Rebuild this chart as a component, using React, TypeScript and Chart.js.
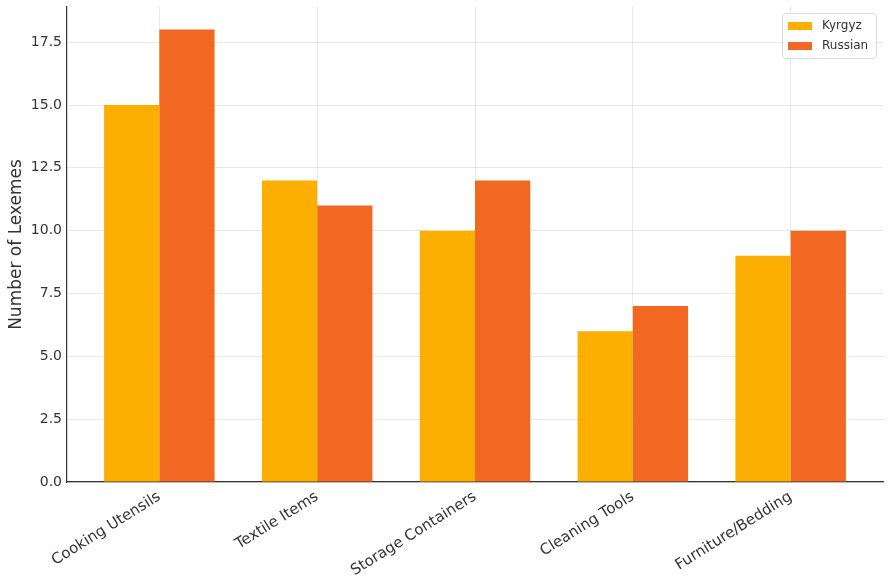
import React, { useEffect, useRef } from "react";
import { Chart, registerables } from "chart.js";

Chart.register(...registerables);

const categories = ["Cooking Utensils", "Textile Items", "Storage Containers", "Cleaning Tools", "Furniture/Bedding"];
const kyrgyzValues = [15, 12, 10, 6, 9];
const russianValues = [18, 11, 12, 7, 10];
const seriesNames = ["Kyrgyz", "Russian"];
const seriesColors = ["#FCAF00", "#F26822"];
const yTicks = [0, 2.5, 5, 7.5, 10, 12.5, 15, 17.5];

const FONT = "'DejaVu Sans', sans-serif";
const W = 891;
const H = 586;

const boxLegend = {
  id: "boxLegend",
  afterDraw(chart: any) {
    const ctx = chart.ctx;
    const area = chart.chartArea;
    const ds = chart.data.datasets;
    const w = 94;
    const h = 45;
    const x = area.right - 7 - w;
    const y = area.top + 6;
    ctx.save();
    ctx.fillStyle = "rgba(255,255,255,0.85)";
    ctx.strokeStyle = "#d9d9d9";
    ctx.lineWidth = 1;
    ctx.beginPath();
    if (ctx.roundRect) ctx.roundRect(x + 0.5, y + 0.5, w, h, 3);
    else ctx.rect(x + 0.5, y + 0.5, w, h);
    ctx.fill();
    ctx.stroke();
    ctx.font = `12px ${FONT}`;
    ctx.textBaseline = "middle";
    ctx.textAlign = "left";
    ds.forEach((d: any, i: number) => {
      const cy = y + 13 + i * 20;
      ctx.fillStyle = d.backgroundColor;
      ctx.fillRect(x + 6, cy - 4, 24, 8);
      ctx.fillStyle = "#333";
      ctx.fillText(d.label, x + 40, cy);
    });
    ctx.restore();
  },
};

export default function App() {
  const ref = useRef<HTMLCanvasElement | null>(null);
  useEffect(() => {
    if (!ref.current) return;
    const chart = new Chart(ref.current, {
      type: "bar",
      data: {
        datasets: [
          {
            label: seriesNames[0],
            data: kyrgyzValues.map((v, i) => ({ x: i, y: v })),
            backgroundColor: seriesColors[0],
            categoryPercentage: 0.7,
            barPercentage: 1,
          },
          {
            label: seriesNames[1],
            data: russianValues.map((v, i) => ({ x: i, y: v })),
            backgroundColor: seriesColors[1],
            categoryPercentage: 0.7,
            barPercentage: 1,
          },
        ],
      },
      options: {
        animation: false,
        responsive: false,
        maintainAspectRatio: false,
        devicePixelRatio: 1,
        layout: { padding: { top: 7, right: 8, left: 0, bottom: 0 } },
        plugins: {
          legend: { display: false },
          tooltip: { enabled: false },
        },
        scales: {
          x: {
            type: "linear",
            min: -0.585,
            max: 4.585,
            offset: false,
            afterBuildTicks: (s: any) => {
              s.ticks = categories.map((_, i) => ({ value: i }));
            },
            afterFit: (s: any) => {
              s.height = 104;
              s.paddingLeft = 0;
              s.paddingRight = 0;
            },
            grid: { color: "rgba(0,0,0,0.09)", lineWidth: 1, drawTicks: false, offset: false },
            border: { display: true, color: "#333", width: 1.2 },
            ticks: {
              autoSkip: false,
              minRotation: 32,
              maxRotation: 32,
              padding: 6,
              color: "#333",
              font: { family: FONT, size: 15 },
              callback: (v: any) => categories[Math.round(Number(v))] ?? "",
            },
          },
          y: {
            min: 0,
            max: 18.9,
            afterBuildTicks: (s: any) => {
              s.ticks = yTicks.map((v) => ({ value: v }));
            },
            afterFit: (s: any) => {
              s.width = 67;
              s.paddingTop = 0;
              s.paddingBottom = 0;
            },
            grid: { color: "rgba(0,0,0,0.09)", lineWidth: 1, drawTicks: false },
            border: { display: true, color: "#333", width: 1.2 },
            ticks: {
              padding: 5,
              color: "#333",
              font: { family: FONT, size: 14 },
              callback: (v: any) => Number(v).toFixed(1),
            },
            title: {
              display: true,
              text: "Number of Lexemes",
              color: "#333",
              font: { family: FONT, size: 17 },
              padding: { top: 6, bottom: 0 },
            },
          },
        },
      },
      plugins: [boxLegend],
    });
    return () => chart.destroy();
  }, []);
  return (
    <div style={{ position: "fixed", left: 0, top: 0, width: W, height: H, background: "#fff", overflow: "hidden" }}>
      <canvas ref={ref} width={W} height={H} style={{ width: W, height: H, display: "block" }} />
    </div>
  );
}
